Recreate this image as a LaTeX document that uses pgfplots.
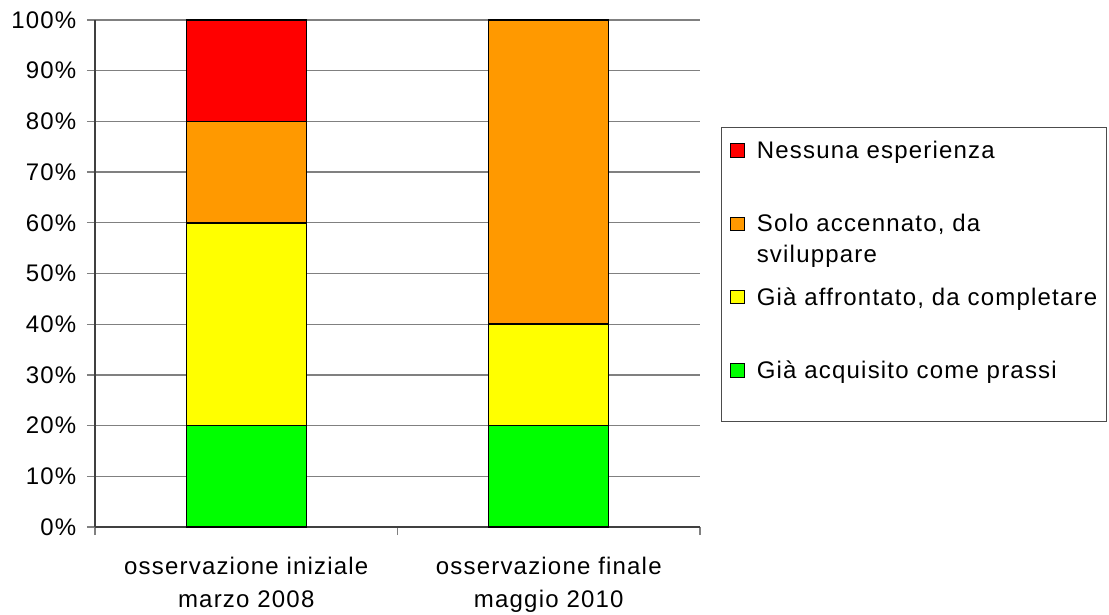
\documentclass[border=0pt]{standalone}
\usepackage{pgfplots}
\pgfplotsset{compat=1.18}
\usepackage{fontspec}
\setmainfont{Liberation Sans}[LetterSpace=5]

\definecolor{cRed}{HTML}{FF0000}
\definecolor{cOrange}{HTML}{FF9900}
\definecolor{cYellow}{HTML}{FFFF00}
\definecolor{cGreen}{HTML}{00FF00}
\definecolor{gridgray}{HTML}{808080}

\newcommand{\lfont}{\fontsize{18}{21}\selectfont}

\begin{document}
\begin{tikzpicture}
\useasboundingbox (-71.25pt,-65.25pt) rectangle (760.5pt,395.25pt);
\begin{axis}[
    scale only axis,
    width=453.75pt, height=380.25pt,
    ybar stacked,
    bar width=90pt,
    xmin=-0.5, xmax=1.5,
    ymin=0, ymax=100,
    xtick={0,1},
    xticklabels={{osservazione iniziale\\marzo 2008},{osservazione finale\\maggio 2010}},
    xticklabel style={align=center, font=\fontsize{18}{25}\selectfont, yshift=-12.75pt},
    minor xtick={-0.5,0.5,1.5},
    major x tick style={draw=none},
    ytick={0,10,...,100},
    yticklabel={\pgfmathprintnumber{\tick}\%},
    yticklabel style={xshift=-4.5pt},
    /pgf/number format/assume math mode=true,
    ticklabel style={font=\lfont},
    tick align=outside,
    tick style={gridgray, line width=0.9pt},
    major tick length=6pt,
    minor tick length=6pt,
    axis x line*=bottom,
    axis y line*=left,
    axis line style={black!75, line width=0.9pt},
    ymajorgrids=true,
    grid style={gridgray, line width=0.9pt},
    every axis plot/.append style={draw=black, line width=1.1pt},
    reverse legend,
    legend image code/.code={\draw[#1, line width=0.8pt] (0pt,1pt) rectangle (10pt,11pt);},
    legend style={
        at={(1.0347,0.789)}, anchor=north west,
        draw=black!70, line width=0.6pt,
        inner xsep=6.75pt, inner ysep=10.25pt,
        row sep=20.25pt, column sep=9pt,
        font=\lfont,
        cells={anchor=base west},
        nodes={inner sep=0pt, text height=13pt, text depth=21.75pt},
    },
]
\addplot[fill=cGreen] coordinates {(0,20) (1,20)};
\addlegendentry{Già acquisito come prassi}
\addplot[fill=cYellow] coordinates {(0,40) (1,20)};
\addlegendentry{Già affrontato, da completare}
\addplot[fill=cOrange] coordinates {(0,20) (1,60)};
\addlegendentry{\smash{\vtop{\baselineskip=23.25pt\hbox{Solo accennato, da}\hbox{sviluppare}}}}
\addplot[fill=cRed] coordinates {(0,20) (1,0)};
\addlegendentry{Nessuna esperienza}
\end{axis}
\end{tikzpicture}
\end{document}
